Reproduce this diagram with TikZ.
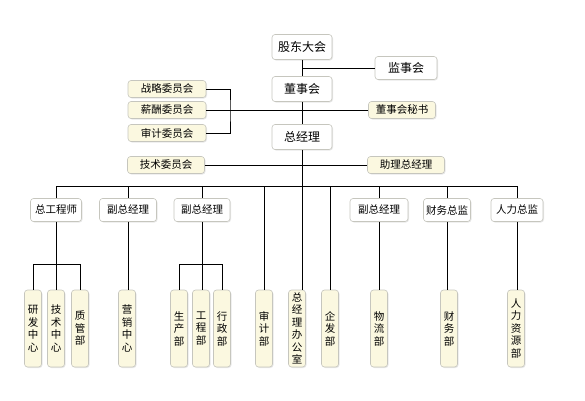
\documentclass[tikz,border=0pt]{standalone}
\usepackage{fontspec}
\setmainfont{Noto Sans CJK SC}
\usetikzlibrary{shadows}
\definecolor{qianhuang}{HTML}{FBF8E0}
\definecolor{kuangxian}{HTML}{C6C6BE}
\begin{document}
\begin{tikzpicture}[x=1pt,y=-1pt,line width=.9pt,
	kuang/.style={draw=kuangxian,line width=.6pt,rounded corners=3pt,fill=white,inner sep=0pt,
		drop shadow={shadow xshift=1pt,shadow yshift=-1pt,fill=black!18}},
	da/.style={kuang,minimum width=60,minimum height=25,font=\fontsize{12}{12}\selectfont},
	wei/.style={kuang,fill=qianhuang,minimum height=17,font=\fontsize{10.5}{10.5}\selectfont},
	zhong/.style={kuang,minimum height=23,font=\fontsize{10.5}{10.5}\selectfont},
	xiao/.style={kuang,fill=qianhuang,minimum width=17,minimum height=77,align=center,
		font=\fontsize{10.5}{12.5}\selectfont}]
	\useasboundingbox (0,0) rectangle (585,400);
	\def\ZhongX{302}%中轴
	\def\BusY{186}%总线高度
	% 上层
	\node[da] (gudong) at (\ZhongX,47) {股东大会};
	\node[da,minimum width=62,minimum height=23] (jianshi) at (406,68) {监事会};
	\node[da] (dongshi) at (\ZhongX,89) {董事会};
	\node[da] (zongjingli) at (\ZhongX,137) {总经理};
	\node[wei,minimum width=78] (zhanlue) at (167,89) {战略委员会};
	\node[wei,minimum width=78] (xinchou) at (167,110) {薪酬委员会};
	\node[wei,minimum width=78] (shenji) at (167,133) {审计委员会};
	\node[wei,minimum width=67] (mishu) at (402,110) {董事会秘书};
	\node[wei,minimum width=77] (jishuwei) at (166,165) {技术委员会};
	\node[wei,minimum width=77] (zhuli) at (406,165) {助理总经理};
	% 中层
	\node[zhong,minimum width=51] (zgcs) at (56,210) {总工程师};
	\node[zhong,minimum width=57] (fz1) at (128,210) {副总经理};
	\node[zhong,minimum width=56] (fz2) at (202,210) {副总经理};
	\node[zhong,minimum width=58] (fz3) at (379,210) {副总经理};
	\node[zhong,minimum width=47] (cwzj) at (447,210) {财务总监};
	\node[zhong,minimum width=52] (rlzj) at (517,210) {人力总监};
	% 部门
	\foreach \x/\mc/\wz in {33/yfzx/{研\\发\\中\\心},56/jszx/{技\\术\\中\\心},80/zgb/{质\\管\\部},
		127/yxzx/{营\\销\\中\\心},179/scb/{生\\产\\部},201/gcb/{工\\程\\部},222/xzb/{行\\政\\部},
		264/sjb/{审\\计\\部},297/zjb/{总\\经\\理\\办\\公\\室},330/qfb/{企\\发\\部},
		379/wlb/{物\\流\\部},449/cwb/{财\\务\\部},516/rlb/{人\\力\\资\\源\\部}}
		\node[xiao] (\mc) at (\x,328.5) {\wz};
	% 连线
	\coordinate (bus) at (\ZhongX,\BusY);
	\coordinate (kuo) at (230,110);
	\draw (gudong) -- (dongshi) -- (zongjingli);
	\draw (zongjingli) -- (zongjingli |- zjb.north);
	\draw (gudong |- jianshi) -- (jianshi);
	\draw (zhanlue) -| (kuo) |- (shenji);
	\draw (xinchou) -- (mishu);
	\draw (jishuwei) -- (zhuli);
	\draw (zgcs |- bus) -- (rlzj |- bus);
	\foreach \n in {zgcs,fz1,fz2,fz3,cwzj,rlzj}
		\draw (\n |- bus) -- (\n);
	\draw (sjb |- bus) -- (sjb);
	\draw (qfb |- bus) -- (qfb);
	\draw (zgcs) -- (jszx);
	\draw (fz1) -- (fz1 |- yxzx.north);
	\draw (fz2) -- (fz2 |- gcb.north);
	\draw (fz3) -- (wlb);
	\draw (cwzj) -- (cwzj |- cwb.north);
	\draw (rlzj) -- (rlzj |- rlb.north);
	\draw (yfzx.north) -- ++(0,-25) -| (zgb.north);
	\draw (scb.north) -- ++(0,-25) -| (xzb.north);
\end{tikzpicture}
\end{document}
